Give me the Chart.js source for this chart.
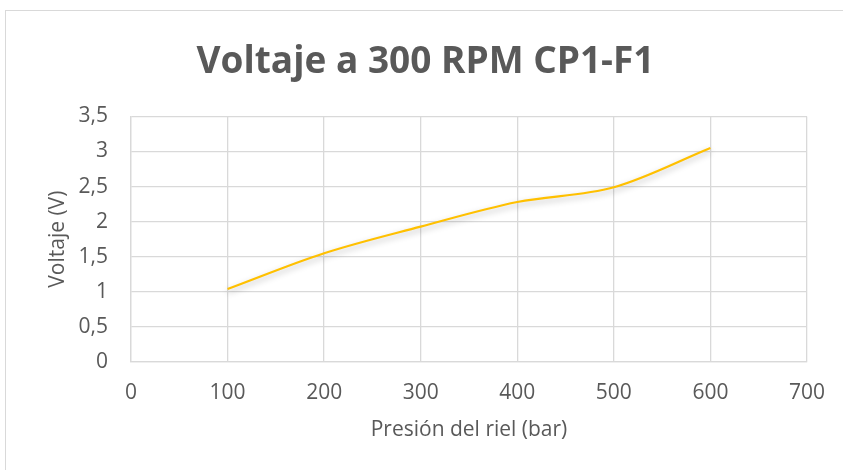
<!DOCTYPE html>
<html>
<head>
<meta charset="utf-8">
<script src="https://cdn.jsdelivr.net/npm/chart.js@4.4.0/dist/chart.umd.min.js"></script>
<style>
  html, body { margin: 0; padding: 0; background: #fff; overflow: hidden; }
  #frame { position: absolute; left: 5px; top: 10px; width: 900px; height: 520px; border: 1px solid #d9d9d9; }
  #wrap { position: absolute; left: 0; top: 0; width: 843px; height: 470px; }
</style>
</head>
<body>
<div id="frame"></div>
<div id="wrap"><canvas id="chart" width="843" height="470"></canvas></div>
<script>
// values
const pressures = [100, 200, 300, 400, 500, 600];
const voltages = [1.04, 1.55, 1.93, 2.28, 2.49, 3.05];

const textColor = '#595959';
const gridColor = '#d9d9d9';

// soft shadow under the line, like the Excel style
const lineShadow = {
  id: 'lineShadow',
  beforeDatasetDraw(chart) {
    const ctx = chart.ctx;
    ctx.save();
    ctx.shadowColor = 'rgba(0,0,0,0.28)';
    ctx.shadowBlur = 6;
    ctx.shadowOffsetY = 3;
  },
  afterDatasetDraw(chart) {
    chart.ctx.restore();
  }
};

const commaFmt = v => String(v).replace('.', ',');

const ctx = document.getElementById('chart').getContext('2d');
new Chart(ctx, {
  type: 'scatter',
  data: {
    datasets: [{
      data: pressures.map((p, i) => ({ x: p, y: voltages[i] })),
      showLine: true,
      borderColor: '#ffc000',
      borderWidth: 2.2,
      pointRadius: 0,
      tension: 0.4,
      cubicInterpolationMode: 'monotone'
    }]
  },
  options: {
    responsive: false,
    animation: false,
    layout: { padding: { left: 41, right: 33, top: 0, bottom: 23 } },
    plugins: {
      legend: { display: false },
      tooltip: { enabled: false },
      title: {
        display: true,
        text: 'Voltaje a 300 RPM CP1-F1',
        color: textColor,
        font: { family: 'Open Sans', size: 37, weight: 'bold' },
        padding: { top: 40, bottom: 32 }
      }
    },
    scales: {
      x: {
        type: 'linear',
        min: 0,
        max: 700,
        ticks: {
          stepSize: 100,
          color: textColor,
          padding: 18,
          maxRotation: 0,
          font: { family: 'Open Sans', size: 21 }
        },
        grid: { color: gridColor, lineWidth: 1.3, drawTicks: false },
        border: { color: gridColor, width: 1.3 },
        title: {
          display: true,
          text: 'Presión del riel (bar)',
          color: textColor,
          font: { family: 'Open Sans', size: 21 }
        },
        afterFit(scale) { scale.height = 85; }
      },
      y: {
        min: 0,
        max: 3.5,
        ticks: {
          stepSize: 0.5,
          color: textColor,
          padding: 23,
          font: { family: 'Open Sans', size: 21 },
          callback: v => commaFmt(v)
        },
        grid: { color: gridColor, lineWidth: 1.3, drawTicks: false },
        border: { color: gridColor, width: 1.3 },
        title: {
          display: true,
          text: 'Voltaje (V)',
          color: textColor,
          font: { family: 'Open Sans', size: 21 }
        },
        afterFit(scale) { scale.width = 90; }
      }
    }
  },
  plugins: [lineShadow]
});
</script>
</body>
</html>
